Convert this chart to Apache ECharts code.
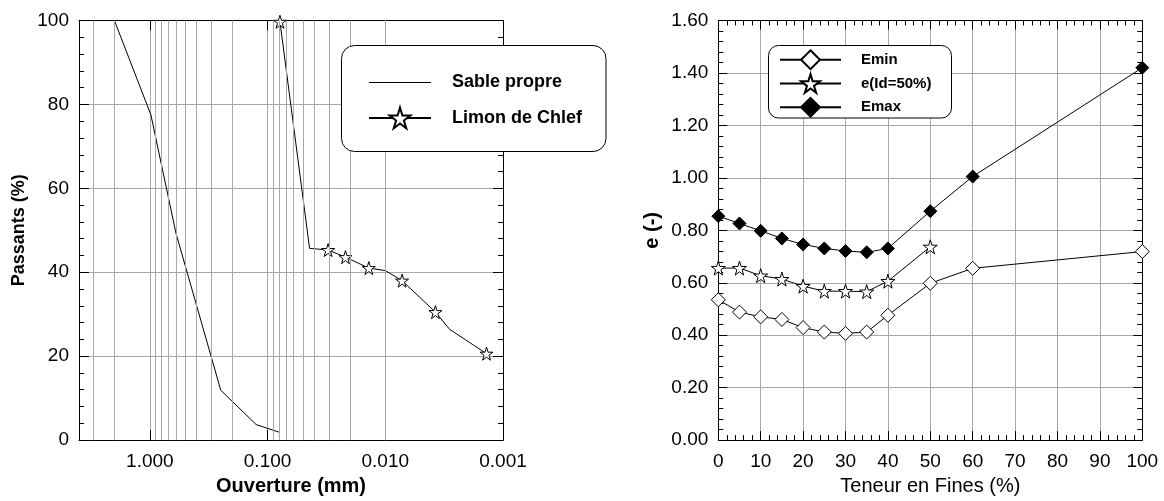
<!DOCTYPE html>
<html>
<head>
<meta charset="utf-8">
<script src="https://cdn.jsdelivr.net/npm/echarts@6/dist/echarts.min.js"></script>
<style>
  html, body { margin: 0; padding: 0; background: #fff; }
  #chart { width: 1164px; height: 501px; }
</style>
</head>
<body>
<div id="chart"></div>
<script>
// --- courbe granulometrique (gauche) ---
const sableX = [2.0, 0.98, 0.6, 0.25, 0.125, 0.08];
const sableY = [100, 77.5, 49.3, 11.9, 3.7, 1.9];
const limonX = [0.0785, 0.044, 0.0306, 0.0218, 0.0138, 0.01, 0.0072, 0.00375, 0.00284, 0.00138];
const limonY = [99.7, 45.7, 45.3, 43.6, 41.0, 40.4, 38.0, 30.5, 26.4, 20.6];
const limonStar = [1, 0, 1, 1, 1, 0, 1, 1, 0, 1]; // points avec etoile

// --- indices des vides (droite) ---
const fines = [0, 5, 10, 15, 20, 25, 30, 35, 40, 50, 60, 100];
const emin = [0.535, 0.488, 0.470, 0.460, 0.429, 0.412, 0.407, 0.412, 0.476, 0.598, 0.655, 0.719];
const eId50 = [0.656, 0.656, 0.627, 0.614, 0.587, 0.568, 0.568, 0.566, 0.606, 0.737];
const emax = [0.854, 0.826, 0.798, 0.769, 0.746, 0.731, 0.721, 0.716, 0.731, 0.873, 1.005, 1.42];

// lignes secondaires de l'axe log (2..9 x 10^n)
const logMinor = [3, 2];
[1, 0.1, 0.01].forEach(d => {
  for (let k = 9; k >= 2; k--) logMinor.push(+(k * d / 10).toFixed(4));
});

const FONT = 'Liberation Sans, Arial, sans-serif';
const GRID_COLOR = '#a8a8a8';
const STAR = 'path://M50,0 L61,35 L98,35 L68,57 L79,91 L50,70 L21,91 L32,57 L2,35 L39,35 Z';
const LINE_ICON = 'path://M0,0 L62,0 L62,1 L0,1 Z'; // trait seul dans la legende

var dom = document.getElementById('chart');
var myChart = echarts.init(dom, null, { renderer: 'canvas' });

function frameAxis(extra) {
  return Object.assign({
    axisLine: { show: true, onZero: false, lineStyle: { color: '#000', width: 1 } },
    axisTick: { show: true, inside: true, length: 9, lineStyle: { color: '#000' } },
    minorTick: { show: true, splitNumber: 5, length: 5, lineStyle: { color: '#000' } },
    splitLine: { show: false },
    axisLabel: { show: false }
  }, extra);
}

const tickLabel = { color: '#000', fontFamily: FONT, fontSize: 19 };

var option = {
  animation: false,
  grid: [
    { left: 79, top: 20.5, width: 424, height: 422.5 },
    { left: 718.3, top: 20.5, width: 424, height: 424 }
  ],
  xAxis: [
    {
      type: 'log', gridIndex: 0, min: 0.001, max: 4, inverse: true,
      name: 'Ouverture (mm)', nameLocation: 'middle', nameGap: 35,
      nameTextStyle: { color: '#000', fontFamily: FONT, fontSize: 20, fontWeight: 'bold' },
      axisLine: { show: true, onZero: false, lineStyle: { color: '#000' } },
      axisTick: { show: true, inside: true, length: 10, lineStyle: { color: '#000' } },
      splitLine: { show: true, lineStyle: { color: GRID_COLOR, width: 1 } },
      axisLabel: Object.assign({ margin: 12, showMaxLabel: false,
        formatter: v => v.toFixed(3) }, tickLabel)
    },
    {
      type: 'log', gridIndex: 0, min: 0.001, max: 4, inverse: true, position: 'top',
      axisLine: { show: true, onZero: false, lineStyle: { color: '#000' } },
      axisTick: { show: true, inside: true, length: 10, lineStyle: { color: '#000' } },
      splitLine: { show: false }, axisLabel: { show: false }
    },
    frameAxis({
      type: 'value', gridIndex: 1, min: 0, max: 100, interval: 10,
      name: 'Teneur en Fines (%)', nameLocation: 'middle', nameGap: 34,
      nameTextStyle: { color: '#000', fontFamily: FONT, fontSize: 20 },
      splitLine: { show: true, lineStyle: { color: GRID_COLOR, width: 1 } },
      axisLabel: Object.assign({ show: true, margin: 12 }, tickLabel)
    }),
    frameAxis({ type: 'value', gridIndex: 1, min: 0, max: 100, interval: 10, position: 'top' })
  ],
  yAxis: [
    frameAxis({
      type: 'value', gridIndex: 0, min: 0, max: 100, interval: 20,
      name: 'Passants (%)', nameLocation: 'middle', nameGap: 51,
      nameTextStyle: { color: '#000', fontFamily: FONT, fontSize: 18, fontWeight: 'bold' },
      axisTick: { show: true, inside: true, length: 10, lineStyle: { color: '#000' } },
      splitLine: { show: true, lineStyle: { color: GRID_COLOR, width: 1 } },
      axisLabel: Object.assign({ show: true, margin: 10 }, tickLabel)
    }),
    frameAxis({ type: 'value', gridIndex: 0, min: 0, max: 100, interval: 20, position: 'right',
      axisTick: { show: true, inside: true, length: 10, lineStyle: { color: '#000' } } }),
    frameAxis({
      type: 'value', gridIndex: 1, min: 0, max: 1.6, interval: 0.2,
      name: 'e (-)', nameLocation: 'middle', nameGap: 56,
      nameTextStyle: { color: '#000', fontFamily: FONT, fontSize: 20, fontWeight: 'bold' },
      splitLine: { show: true, lineStyle: { color: GRID_COLOR, width: 1 } },
      axisLabel: Object.assign({ show: true, margin: 10, formatter: v => v.toFixed(2) }, tickLabel)
    }),
    frameAxis({ type: 'value', gridIndex: 1, min: 0, max: 1.6, interval: 0.2, position: 'right' })
  ],
  graphic: [
    { type: 'rect', z: 20, shape: { x: 341.5, y: 45.5, width: 264.5, height: 106, r: 13 },
      style: { fill: '#fff', stroke: '#000', lineWidth: 1 } },
    { type: 'rect', z: 20, shape: { x: 768.5, y: 45.5, width: 183, height: 72.5, r: 10 },
      style: { fill: '#fff', stroke: '#000', lineWidth: 1 } }
  ],
  legend: [
    {
      z: 30, orient: 'vertical', left: 368, top: 73.5, padding: 0,
      itemWidth: 62, itemHeight: 26, itemGap: 15,
      data: [
        { name: 'Sable propre', icon: LINE_ICON, itemStyle: { color: '#000' } },
        'Limon de Chlef'
      ],
      textStyle: { color: '#000', fontFamily: FONT, fontSize: 18, fontWeight: 'bold',
        padding: [0, 0, 0, 16] }
    },
    {
      z: 30, orient: 'vertical', left: 779, top: 49.3, padding: 0,
      itemWidth: 61, itemHeight: 23.5, itemGap: 3,
      data: ['Emin', 'e(Id=50%)', 'Emax'],
      textStyle: { color: '#000', fontFamily: FONT, fontSize: 15, fontWeight: 'bold',
        padding: [0, 0, 0, 15] }
    }
  ],
  series: [
    {
      name: 'Sable propre', type: 'line', xAxisIndex: 0, yAxisIndex: 0,
      symbol: 'none', clip: false,
      lineStyle: { color: '#000', width: 1 }, itemStyle: { color: '#000' },
      data: sableX.map((x, i) => [x, sableY[i]]),
      markLine: {
        silent: true, symbol: 'none', label: { show: false },
        lineStyle: { color: GRID_COLOR, width: 1, type: 'solid' },
        data: logMinor.map(v => ({ xAxis: v }))
      }
    },
    {
      name: 'Limon de Chlef', type: 'line', xAxisIndex: 0, yAxisIndex: 0,
      symbol: STAR, symbolSize: 13, clip: false,
      lineStyle: { color: '#000', width: 1 },
      itemStyle: { color: '#fff', borderColor: '#000', borderWidth: 1 },
      data: limonX.map((x, i) => ({
        value: [x, limonY[i]],
        symbol: limonStar[i] ? STAR : 'none'
      }))
    },
    {
      name: 'Emin', type: 'line', xAxisIndex: 2, yAxisIndex: 2,
      symbol: 'diamond', symbolSize: 14, clip: false,
      lineStyle: { color: '#000', width: 1 },
      itemStyle: { color: '#fff', borderColor: '#000', borderWidth: 1 },
      data: fines.map((x, i) => [x, emin[i]])
    },
    {
      name: 'e(Id=50%)', type: 'line', xAxisIndex: 2, yAxisIndex: 2,
      symbol: STAR, symbolSize: 14, clip: false,
      lineStyle: { color: '#000', width: 1 },
      itemStyle: { color: '#fff', borderColor: '#000', borderWidth: 1 },
      data: eId50.map((y, i) => [fines[i], y])
    },
    {
      name: 'Emax', type: 'line', xAxisIndex: 2, yAxisIndex: 2,
      symbol: 'diamond', symbolSize: 13, clip: false,
      lineStyle: { color: '#000', width: 1 },
      itemStyle: { color: '#000', borderColor: '#000', borderWidth: 1 },
      data: fines.map((x, i) => [x, emax[i]])
    }
  ]
};

myChart.setOption(option);
window.addEventListener('resize', myChart.resize);
</script>
</body>
</html>
